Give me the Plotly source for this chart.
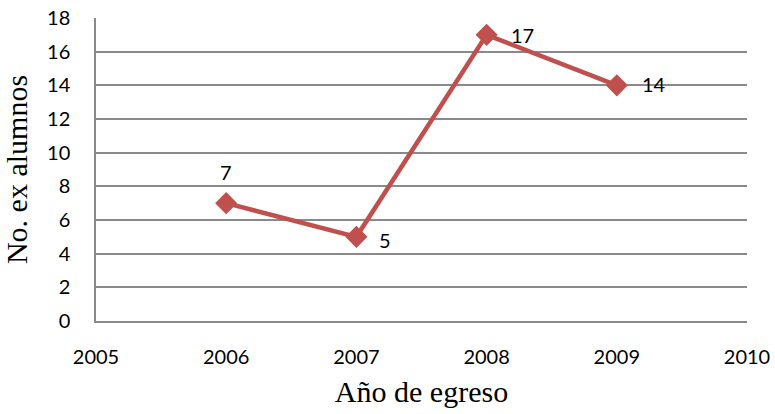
import plotly.graph_objects as go

years = [2006, 2007, 2008, 2009]
values = [7, 5, 17, 14]
label_text = ["7", "5", "17", "14"]
label_dx = [0, 29, 36, 37]
label_dy = [31, -3, 0, 1]
x_ticks = [2005, 2006, 2007, 2008, 2009, 2010]
y_ticks = [0, 2, 4, 6, 8, 10, 12, 14, 16, 18]

color = "#C0504D"
grid = "#8A8A8A"
tick_font = dict(family="Lato, Open Sans, sans-serif", size=20, color="#000000")
title_font = dict(family="Liberation Serif, Times New Roman, serif", size=30, color="#000000")

fig = go.Figure()
fig.add_trace(go.Scatter(
    x=years, y=values, mode="lines+markers",
    line=dict(color=color, width=4.5),
    marker=dict(symbol="diamond", size=17, color=color),
    showlegend=False, hoverinfo="skip",
))

for x, y, t, dx, dy in zip(years, values, label_text, label_dx, label_dy):
    fig.add_annotation(x=x, y=y, text=t, showarrow=False, xshift=dx, yshift=dy,
                       font=tick_font)

fig.update_layout(
    width=775, height=414,
    margin=dict(l=96, r=28, t=18, b=93),
    plot_bgcolor="white", paper_bgcolor="white",
)
fig.update_xaxes(
    range=[2005, 2010], tickvals=x_ticks, ticktext=[str(v) for v in x_ticks],
    showgrid=False, zeroline=False, showline=True, linecolor=grid, linewidth=1.5,
    ticks="", ticklabelstandoff=17, tickfont=tick_font, automargin=False,
    title=dict(text="Año de egreso", standoff=14, font=title_font),
)
fig.update_yaxes(
    range=[0, 18], tickvals=y_ticks,
    showgrid=True, gridcolor=grid, gridwidth=1.5, zeroline=False,
    showline=True, linecolor=grid, linewidth=1.5, mirror=False,
    ticks="", ticklabelstandoff=20, tickfont=tick_font, automargin=False,
    title=dict(text="No. ex alumnos", standoff=11, font=title_font),
)

fig.write_html("out.html", config={"displayModeBar": False},
               post_script="document.body.style.margin='0';")
